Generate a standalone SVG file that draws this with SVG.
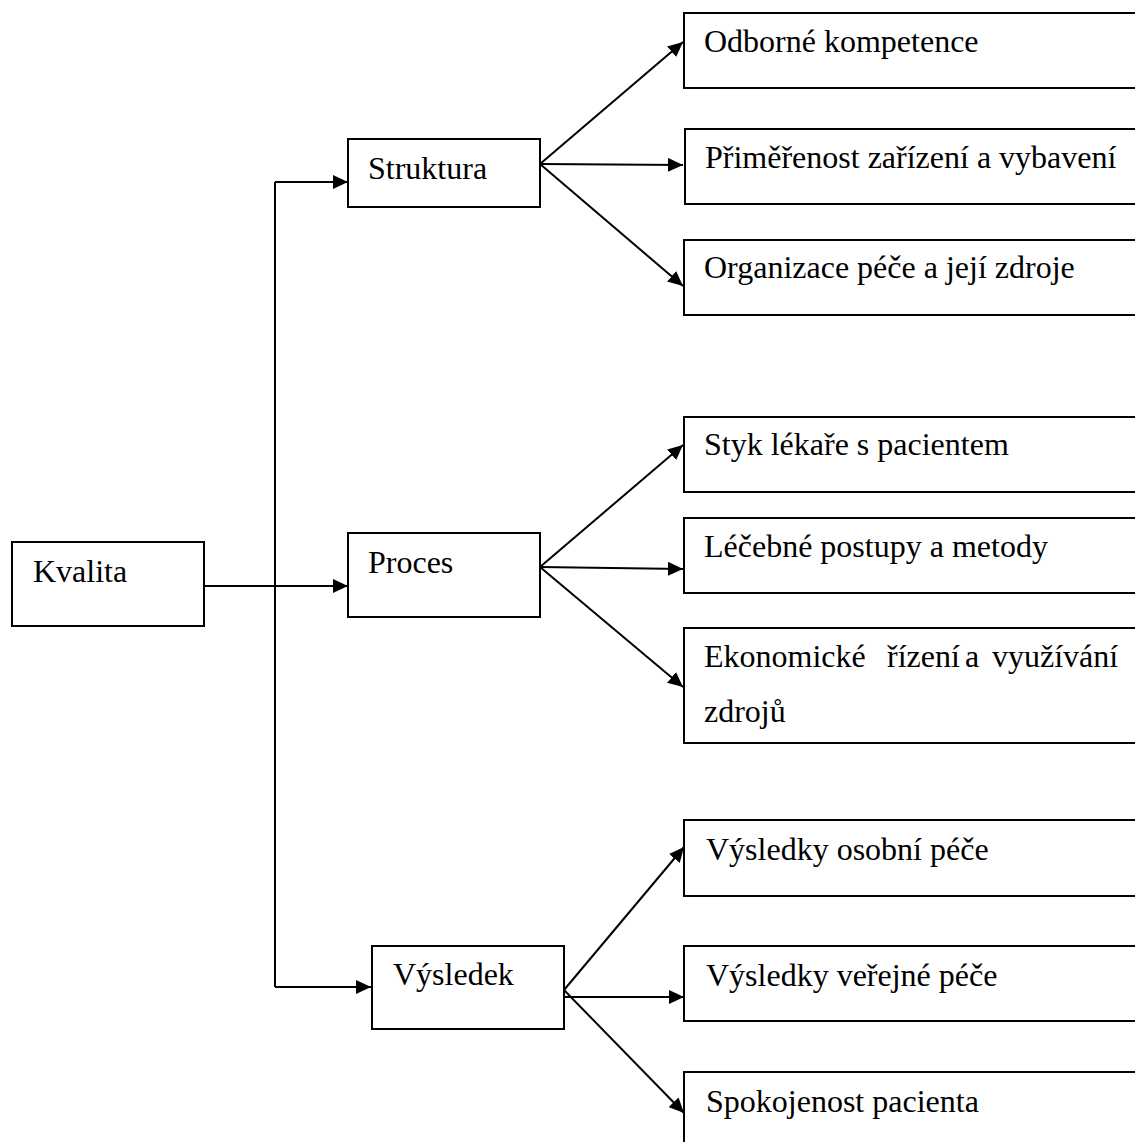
<svg xmlns="http://www.w3.org/2000/svg" width="1135" height="1142" viewBox="0 0 1135 1142">
<style>
.box{fill:#fff;stroke:#000;stroke-width:2}
.t{font-family:"Liberation Serif","Times New Roman",serif;font-size:32px;fill:#000}
.c{fill:none;stroke:#000;stroke-width:2;marker-end:url(#ah)}
.l{fill:none;stroke:#000;stroke-width:2}
</style>
<defs>
<marker id="ah" markerUnits="userSpaceOnUse" markerWidth="16" markerHeight="14" refX="15" refY="7" orient="auto">
<path d="M0,0 L15,7 L0,14 z" fill="#000"/>
</marker>
</defs>
<rect width="1135" height="1142" fill="#fff"/>
<g id="connectors">
<path class="c" d="M204,586 H348"/>
<path class="l" d="M275,586 V182"/>
<path class="c" d="M275,182 H348"/>
<path class="l" d="M275,586 V987"/>
<path class="c" d="M275,987 H371"/>
<path class="c" d="M540,164 L683,42"/>
<path class="c" d="M540,164 L683,165"/>
<path class="c" d="M540,164 L683,286"/>
<path class="c" d="M540,567 L683,445"/>
<path class="c" d="M540,567 L683,569"/>
<path class="c" d="M540,567 L683,687"/>
<path class="c" d="M564,990 L684,847"/>
<path class="c" d="M564,997 L684,997"/>
<path class="c" d="M564,990 L684,1113"/>
</g>
<g id="kvalita"><rect class="box" x="12" y="542" width="192" height="84"/><text class="t" x="33" y="582">Kvalita</text></g>
<g id="struktura"><rect class="box" x="348" y="139" width="192" height="68"/><text class="t" x="368" y="179">Struktura</text></g>
<g id="proces"><rect class="box" x="348" y="533" width="192" height="84"/><text class="t" x="368" y="573">Proces</text></g>
<g id="vysledek"><rect class="box" x="372" y="946" width="192" height="83"/><text class="t" x="393" y="985">Výsledek</text></g>
<g id="odborne"><rect class="box" x="684" y="13" width="460" height="75"/><text class="t" x="704" y="52">Odborné kompetence</text></g>
<g id="primerenost"><rect class="box" x="685" y="129" width="460" height="75"/><text class="t" x="705" y="168">Přiměřenost zařízení a vybavení</text></g>
<g id="organizace"><rect class="box" x="684" y="240" width="460" height="75"/><text class="t" x="704" y="278">Organizace péče a její zdroje</text></g>
<g id="styk"><rect class="box" x="684" y="417" width="460" height="75"/><text class="t" x="704" y="455">Styk lékaře s pacientem</text></g>
<g id="lecebne"><rect class="box" x="684" y="518" width="460" height="75"/><text class="t" x="704" y="557">Léčebné postupy a metody</text></g>
<g id="ekonomicke"><rect class="box" x="684" y="628" width="460" height="115"/><text class="t" y="667"><tspan x="704">Ekonomické</tspan><tspan x="887">řízení</tspan><tspan x="965">a</tspan><tspan x="992">využívání</tspan></text><text class="t" x="704" y="722">zdrojů</text></g>
<g id="osobni"><rect class="box" x="684" y="820" width="460" height="76"/><text class="t" x="706" y="860">Výsledky osobní péče</text></g>
<g id="verejne"><rect class="box" x="684" y="946" width="460" height="75"/><text class="t" x="706" y="986">Výsledky veřejné péče</text></g>
<g id="spokojenost"><rect class="box" x="684" y="1072" width="460" height="80"/><text class="t" x="706" y="1112">Spokojenost pacienta</text></g>
</svg>
